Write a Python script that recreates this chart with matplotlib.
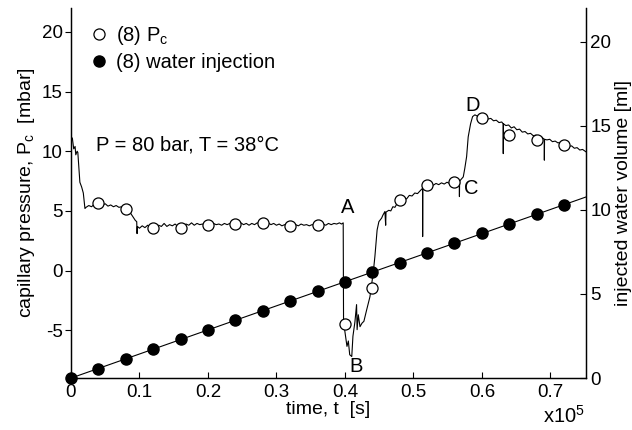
import matplotlib
matplotlib.use("Agg")
import matplotlib.pyplot as plt
import numpy as np

plt.rcParams["font.family"] = ["Liberation Sans", "DejaVu Sans"]
plt.rcParams["mathtext.fontset"] = "custom"
plt.rcParams["mathtext.rm"] = "Liberation Sans"
plt.rcParams["mathtext.it"] = "Liberation Sans"
plt.rcParams["font.size"] = 14
plt.rcParams["axes.unicode_minus"] = False

# time axis in units of 1e5 s
# capillary pressure trace (mbar)
trace_t = [
    0.002, 0.004, 0.006, 0.007, 0.009, 0.010, 0.013, 0.0156, 0.018, 0.0204,
    0.022, 0.026, 0.030, 0.034, 0.038, 0.042, 0.046, 0.050, 0.054, 0.058,
    0.062, 0.066, 0.070, 0.074, 0.078, 0.082, 0.086, 0.090, 0.094, 0.096,
    0.0965, 0.097, 0.100, 0.104, 0.108, 0.112, 0.116, 0.120, 0.124, 0.128,
    0.132, 0.136, 0.140, 0.144, 0.148, 0.152, 0.156, 0.160, 0.164, 0.168,
    0.172, 0.176, 0.180, 0.184, 0.188, 0.192, 0.196, 0.200, 0.204, 0.208,
    0.212, 0.216, 0.220, 0.224, 0.228, 0.232, 0.236, 0.240, 0.244, 0.248,
    0.252, 0.256, 0.260, 0.264, 0.268, 0.272, 0.276, 0.280, 0.284, 0.288,
    0.292, 0.296, 0.300, 0.304, 0.308, 0.312, 0.316, 0.320, 0.324, 0.328,
    0.332, 0.336, 0.340, 0.344, 0.348, 0.352, 0.356, 0.360, 0.364, 0.368,
    0.372, 0.376, 0.380, 0.384, 0.388, 0.392, 0.395, 0.3975,
    0.398, 0.401, 0.403, 0.405, 0.407, 0.410, 0.4117, 0.4146, 0.417, 0.4178,
    0.4195, 0.422, 0.425, 0.4277, 0.4317, 0.4365, 0.4413, 0.4438, 0.447, 0.4496,
    0.4536, 0.4555, 0.4584, 0.4595, 0.460, 0.464, 0.467, 0.470, 0.473, 0.476,
    0.479, 0.482, 0.486, 0.490, 0.494, 0.498, 0.502, 0.506, 0.510, 0.5134,
    0.5135, 0.5137, 0.517, 0.521, 0.525, 0.529, 0.533, 0.537, 0.541, 0.545,
    0.549, 0.553, 0.557, 0.561, 0.565, 0.567, 0.5672, 0.5675, 0.5728, 0.575,
    0.5777, 0.580, 0.5835, 0.5864, 0.5898, 0.593, 0.597, 0.601, 0.605, 0.609,
    0.613, 0.617, 0.621, 0.625, 0.629, 0.631, 0.6312, 0.6315, 0.635, 0.639,
    0.643, 0.647, 0.651, 0.655, 0.659, 0.663, 0.667, 0.671, 0.675, 0.679,
    0.683, 0.687, 0.691, 0.6912, 0.6915, 0.695, 0.699, 0.703, 0.707, 0.711,
    0.715, 0.719, 0.723, 0.727, 0.731, 0.735, 0.739, 0.743, 0.747, 0.752,
]
trace_pc = [
    11.1, 10.2, 10.4, 9.7, 10.0, 9.9, 7.4, 7.0, 6.5, 5.2,
    5.30, 5.45, 5.35, 5.55, 5.50, 5.70, 5.50, 5.60, 5.40, 5.50,
    5.35, 5.45, 5.30, 5.35, 5.20, 5.15, 4.90, 4.55, 4.20, 4.10,
    3.10, 3.70, 3.55, 3.75, 3.60, 3.80, 3.65, 3.70, 3.60, 3.80,
    3.70, 3.95, 3.70, 3.85, 3.75, 3.90, 3.70, 3.75, 3.65, 3.90,
    3.80, 4.00, 3.80, 3.95, 3.85, 3.90, 3.80, 3.90, 3.80, 3.95,
    3.85, 3.90, 3.80, 3.95, 3.85, 3.95, 3.85, 3.95, 3.90, 4.00,
    3.85, 3.95, 3.80, 3.95, 3.85, 4.00, 3.95, 4.05, 3.90, 4.00,
    3.85, 3.95, 3.80, 3.90, 3.75, 3.85, 3.70, 3.75, 3.65, 3.85,
    3.75, 3.90, 3.80, 3.85, 3.75, 3.85, 3.80, 3.85, 3.75, 3.90,
    3.80, 3.95, 3.85, 3.95, 3.90, 4.00, 3.90, 4.00,
    -4.3, -5.5, -6.35, -5.9, -7.05, -7.2, -5.5, -4.3, -2.85, -4.95,
    -3.7, -4.7, -4.4, -4.25, -3.3, -2.2, -0.2, 1.2, 3.4, 4.1,
    4.4, 4.65, 4.95, 3.8, 4.9, 5.05, 5.0, 5.35, 5.3, 5.6,
    5.55, 5.9, 6.1, 6.0, 6.3, 6.25, 6.5, 6.45, 6.7, 6.9,
    2.85, 6.9, 7.1, 7.05, 7.25, 7.15, 7.3, 7.2, 7.35, 7.25,
    7.4, 7.3, 7.45, 7.4, 7.5, 7.45, 6.2, 7.5, 7.85, 8.55,
    9.55, 11.2, 12.3, 12.9, 13.05, 12.95, 13.05, 12.85, 12.9, 12.7,
    12.75, 12.55, 12.6, 12.4, 12.45, 12.3, 9.8, 12.3, 12.15, 12.2,
    11.95, 12.05, 11.8, 11.85, 11.6, 11.65, 11.45, 11.5, 11.3, 11.35,
    11.15, 11.2, 11.0, 9.25, 11.0, 10.95, 11.0, 10.8, 10.85, 10.7,
    10.75, 10.55, 10.6, 10.4, 10.45, 10.25, 10.3, 10.1, 10.15, 9.95,
]

# sampled Pc points (open circles)
pc_t = [0.04, 0.08, 0.12, 0.16, 0.20, 0.24, 0.28, 0.32, 0.36,
        0.40, 0.44, 0.48, 0.52, 0.56, 0.60, 0.64, 0.68, 0.72]
pc_val = [5.7, 5.15, 3.6, 3.6, 3.85, 3.9, 4.0, 3.7, 3.8,
          -4.5, -1.5, 5.9, 7.2, 7.4, 12.8, 11.4, 10.95, 10.5]

# injected water volume (ml), filled circles
inj_t = [0.0, 0.04, 0.08, 0.12, 0.16, 0.20, 0.24, 0.28, 0.32, 0.36,
         0.40, 0.44, 0.48, 0.52, 0.56, 0.60, 0.64, 0.68, 0.72]
inj_vol = [0.0, 0.55, 1.15, 1.7, 2.3, 2.85, 3.45, 4.0, 4.6, 5.15,
           5.7, 6.3, 6.85, 7.45, 8.0, 8.6, 9.15, 9.75, 10.3]

x_ticks = [0, 0.1, 0.2, 0.3, 0.4, 0.5, 0.6, 0.7]
x_labels = ["0", "0.1", "0.2", "0.3", "0.4", "0.5", "0.6", "0.7"]
pc_ticks = [-5, 0, 5, 10, 15, 20]
vol_ticks = [0, 5, 10, 15, 20]

fig = plt.figure(figsize=(6.32, 4.30), dpi=100)
ax = fig.add_axes([0.1123, 0.1209, 0.8149, 0.8605])
ax2 = ax.twinx()

ax.set_xlim(0, 0.752)
ax.set_ylim(-9, 22)
ax2.set_ylim(0, 22)

# water injection: fitted straight line across the whole axis
slope, icpt = np.polyfit(inj_t, inj_vol, 1)
xx = np.array(ax.get_xlim())
ax2.plot(xx, slope * xx + icpt, color="black", lw=0.8, zorder=2)
ax2.plot(inj_t, inj_vol, "o", color="black", ms=8, zorder=3, clip_on=False)

ax.plot(trace_t, trace_pc, color="black", lw=0.8, zorder=2)
ax.plot(pc_t, pc_val, "o", mfc="white", mec="black", mew=0.9, ms=8, zorder=3)

# make the pressure axis draw above the twin
ax.set_zorder(ax2.get_zorder() + 1)
ax.patch.set_visible(False)

for a in (ax, ax2):
    a.spines["top"].set_visible(False)
    for s in a.spines.values():
        s.set_linewidth(0.9)

ax.set_xticks(x_ticks)
ax.set_xticklabels(x_labels)
ax.set_yticks(pc_ticks)
ax2.set_yticks(vol_ticks)
ax.tick_params(axis="x", direction="in", length=4, width=0.8, labelsize=13.5, pad=4)
ax.tick_params(axis="y", direction="out", length=4, width=0.8, labelsize=13.5, pad=2)
ax2.tick_params(axis="y", direction="in", length=4, width=0.8, labelsize=13.5, pad=3)

ax.set_xlabel("time, t  [s]", fontsize=14, labelpad=0)
ax.set_ylabel("capillary pressure, P$_\\mathrm{c}$  [mbar]", fontsize=14, labelpad=3)
ax2.set_ylabel("injected water volume [ml]", fontsize=14, labelpad=3)

ax.text(0.997, -0.072, "x10$^{5}$", transform=ax.transAxes, ha="right",
        va="top", fontsize=14.5)

ax.text(0.0365, 10.5, "P = 80 bar, T = 38°C", ha="left", va="center", fontsize=14.5)
ax.text(0.404, 5.3, "A", ha="center", va="center", fontsize=14.5)
ax.text(0.416, -8.0, "B", ha="center", va="center", fontsize=14.5)
ax.text(0.584, 6.9, "C", ha="center", va="center", fontsize=14.5)
ax.text(0.587, 13.85, "D", ha="center", va="center", fontsize=14.5)

h1 = plt.Line2D([], [], ls="none", marker="o", mfc="white", mec="black", mew=0.9, ms=8)
h2 = plt.Line2D([], [], ls="none", marker="o", color="black", ms=8)
ax.legend([h1, h2], ["(8) P$_\\mathrm{c}$", "(8) water injection"],
          loc="upper left", bbox_to_anchor=(0.008, 0.995), frameon=False,
          fontsize=14.5, handlelength=1.0, handletextpad=0.35, labelspacing=0.3,
          borderaxespad=0.3)

fig.savefig("out.png", dpi=100)
